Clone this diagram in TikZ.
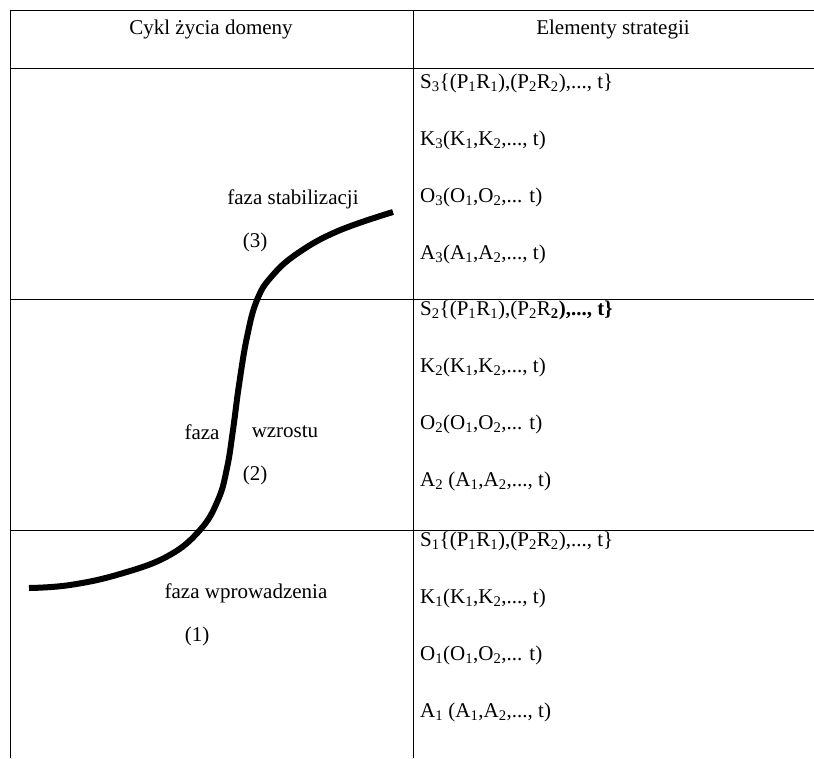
\documentclass[tikz,border=0pt]{standalone}
\usepackage{fontspec}
\setmainfont{Liberation Serif}
\usetikzlibrary{positioning}
\newcommand{\ix}[1]{\textsubscript{#1}}

\begin{document}
\begin{tikzpicture}[x=1pt,y=-1pt,
    rule/.style={line width=1pt},
    entry/.style={anchor=west,inner sep=0pt,font=\fontsize{21}{24}\selectfont},
    lbl/.style={inner sep=0pt,font=\fontsize{21}{24}\selectfont}]
    \useasboundingbox (0,0) rectangle (814,758);
    % table
    \draw[rule] (10,10) -- (814,10);
    \foreach \y in {68,299,530} \draw[rule] (10,\y) -- (814,\y);
    \draw[rule] (10,10) -- (10,758);
    \draw[rule] (413,10) -- (413,758);
    \node[lbl] (hcycle) at (211,29) {Cykl życia domeny};
    \node[lbl] (hstrat) at (613,29) {Elementy strategii};
    % stage 3
    \node[entry] (s3) at (420,83) {S\ix{3}\{(P\ix{1}R\ix{1}),(P\ix{2}R\ix{2}),..., t\}};
    \node[entry] (k3) at (420,140) {K\ix{3}(K\ix{1},K\ix{2},..., t)};
    \node[entry] (o3) at (420,197) {O\ix{3}(O\ix{1},O\ix{2},... t)};
    \node[entry] (a3) at (420,254) {A\ix{3}(A\ix{1},A\ix{2},..., t)};
    % stage 2
    \node[entry] (s2) at (420,310) {S\ix{2}\{(P\ix{1}R\ix{1}),(P\ix{2}R\textbf{\ix{2}),..., t\}}};
    \node[entry] (k2) at (420,367) {K\ix{2}(K\ix{1},K\ix{2},..., t)};
    \node[entry] (o2) at (420,424) {O\ix{2}(O\ix{1},O\ix{2},... t)};
    \node[entry] (a2) at (420,481) {A\ix{2} (A\ix{1},A\ix{2},..., t)};
    % stage 1
    \node[entry] (s1) at (420,541) {S\ix{1}\{(P\ix{1}R\ix{1}),(P\ix{2}R\ix{2}),..., t\}};
    \node[entry] (k1) at (420,598) {K\ix{1}(K\ix{1},K\ix{2},..., t)};
    \node[entry] (o1) at (420,655) {O\ix{1}(O\ix{1},O\ix{2},... t)};
    \node[entry] (a1) at (420,712) {A\ix{1} (A\ix{1},A\ix{2},..., t)};
    % life cycle curve
    \draw[line width=6pt] plot[smooth,tension=0.7] coordinates {
        (29,588) (70,585) (120,574) (168,556) (200,530) (218,500) (227,468)
        (233,430) (239,385) (247,337) (257,300) (272,276) (298,253) (338,231) (393,212)};
    \node[lbl] (fstab) at (293,199) {faza stabilizacji};
    \node[lbl] (n3) at (255,242) {(3)};
    \node[lbl] (fgr) at (202,432) {faza};
    \node[lbl] (fgr2) at (285,432) {wzrostu};
    \node[lbl] (n2) at (255,475) {(2)};
    \node[lbl] (fintro) at (246,593) {faza wprowadzenia};
    \node[lbl] (n1) at (197,636) {(1)};
\end{tikzpicture}
\end{document}
